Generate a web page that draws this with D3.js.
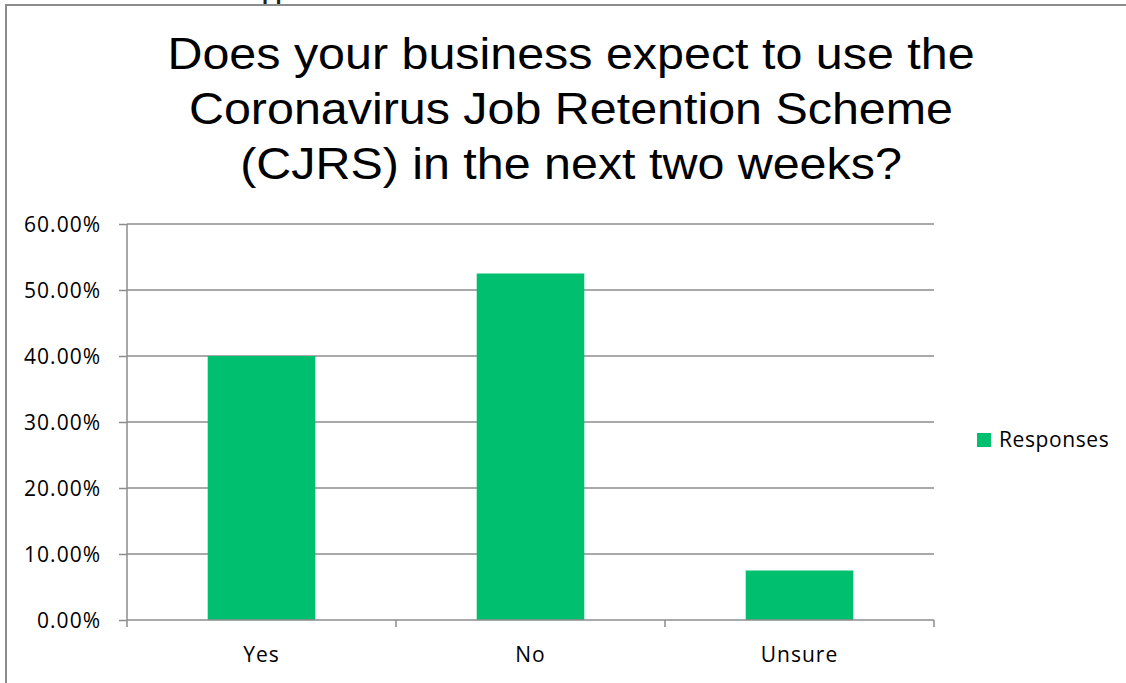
<!DOCTYPE html>
<html lang="en">
<head>
  <meta charset="utf-8">
  <script src="https://d3js.org/d3.v7.min.js"></script>
  <style>
    body { margin: 0; background: #fff; }
    svg { display: block; }
  </style>
</head>
<body>
  <div id="chart"></div>
  <script>
  const width = 1126
  const height = 683

  // data
  const categories = ["Yes", "No", "Unsure"]
  const responses = [0.40, 0.525, 0.075]
  const yTicks = [0, 0.1, 0.2, 0.3, 0.4, 0.5, 0.6]
  const titleLines = [
    "Does your business expect to use the",
    "Coronavirus Job Retention Scheme",
    "(CJRS) in the next two weeks?"
  ]
  const seriesName = "Responses"

  const green = "#00bf6f"
  const grey = "#8c8c8c"
  const labelFont = "'Open Sans', sans-serif"

  const plot = {left: 127, right: 934, top: 224, bottom: 620}

  const svg = d3.select("#chart").append("svg")
      .attr("width", width)
      .attr("height", height)

  // frame of the chart (it is cut off on the right and bottom)
  svg.append("path")
      .attr("d", `M6,${height} V5 H${width}`)
      .attr("fill", "none")
      .attr("stroke", grey)
      .attr("stroke-width", 2)

  // bits of text from above the frame
  svg.append("text")
      .attr("x", 262).attr("y", -1)
      .style("font-family", "'Liberation Sans', Arial, sans-serif")
      .style("font-size", "22px")
      .style("font-weight", "bold")
      .attr("fill", "#222")
      .text("pp")

  ////////////////////////// Title //////////////////////////
  svg.append("g")
      .attr("transform", "translate(571,0) scale(1.1,1)")
    .selectAll("text")
      .data(titleLines)
      .join("text")
      .attr("x", 0)
      .attr("y", (d, i) => 69 + i * 55)
      .attr("text-anchor", "middle")
      .style("font-family", "'Liberation Sans', Arial, sans-serif")
      .style("font-size", "44px")
      .attr("fill", "#000")
      .text(d => d)

  ////////////////////////// Scales //////////////////////////
  const x = d3.scaleBand()
      .domain(categories)
      .range([plot.left, plot.right])
      .paddingInner(0.6)
      .paddingOuter(0.3)

  const xOuter = d3.scaleBand()
      .domain(categories)
      .range([plot.left, plot.right])

  const y = d3.scaleLinear()
      .domain([0, 0.6])
      .range([plot.bottom, plot.top])

  ////////////////////////// Gridlines //////////////////////////
  svg.append("g").selectAll("line")
      .data(yTicks.filter(d => d > 0))
      .join("line")
      .attr("x1", plot.left).attr("x2", plot.right)
      .attr("y1", d => y(d)).attr("y2", d => y(d))
      .attr("stroke", grey)
      .attr("stroke-width", 1.5)

  ////////////////////////// Bars //////////////////////////
  svg.append("g").selectAll("rect")
      .data(categories)
      .join("rect")
      .attr("x", d => x(d))
      .attr("width", x.bandwidth())
      .attr("y", (d, i) => y(responses[i]))
      .attr("height", (d, i) => y(0) - y(responses[i]))
      .attr("fill", green)

  ////////////////////////// Axes //////////////////////////
  const yAxis = svg.append("g")
      .attr("transform", `translate(${plot.left},0)`)
      .call(d3.axisLeft(y)
        .tickValues(yTicks)
        .tickFormat(d3.format(".2%"))
        .tickSize(8)
        .tickPadding(18))
  yAxis.select(".domain").attr("d", `M0,${plot.top}V${plot.bottom}`)

  const xAxis = svg.append("g")
      .attr("transform", `translate(0,${plot.bottom})`)
      .call(d3.axisBottom(xOuter).tickSize(0).tickPadding(27))
  xAxis.select(".domain").attr("d", `M${plot.left},0H${plot.right}`)

  // category boundary ticks
  const boundaries = categories.map(d => xOuter(d)).concat([plot.right])
  xAxis.selectAll(".bound")
      .data(boundaries)
      .join("line")
      .attr("class", "bound")
      .attr("x1", d => d).attr("x2", d => d)
      .attr("y1", 0).attr("y2", 7)

  svg.selectAll(".domain, .tick line, .bound")
      .attr("stroke", grey)
      .attr("stroke-width", 1.5)
  svg.selectAll(".tick text")
      .style("font-family", labelFont)
      .style("font-size", "21px")
      .style("letter-spacing", "1px")
      .attr("fill", "#000")
  yAxis.selectAll(".tick text").attr("dy", "0.36em")
  xAxis.selectAll(".tick text").attr("dy", "0.71em")

  ////////////////////////// Legend //////////////////////////
  const legend = svg.append("g").attr("transform", "translate(977,433)")
  legend.append("rect")
      .attr("width", 14).attr("height", 14)
      .attr("fill", green)
  legend.append("text")
      .attr("x", 22).attr("y", 14)
      .style("font-family", labelFont)
      .style("font-size", "21px")
      .style("letter-spacing", "0.6px")
      .attr("fill", "#000")
      .text(seriesName)
  </script>
</body>
</html>
